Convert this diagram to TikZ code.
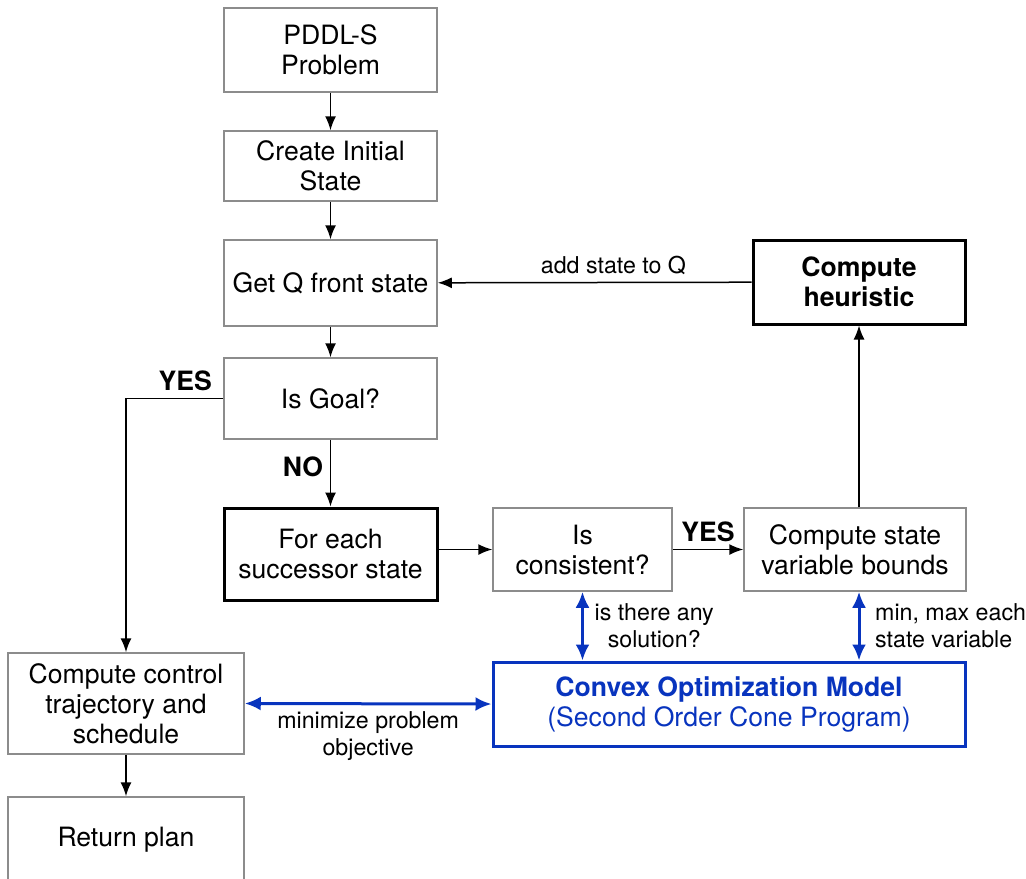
\documentclass[tikz,border=0pt]{standalone}
\usepackage{fontspec}
\setmainfont{TeX Gyre Heros}
\usetikzlibrary{arrows.meta}
\definecolor{boxgray}{RGB}{140,140,140}
\definecolor{modelblue}{RGB}{8,52,190}
\tikzset{
  box/.style={draw=boxgray, line width=0.75pt, align=center, inner sep=0pt, font=\fontsize{13.3}{15}\selectfont},
  keybox/.style={box, draw=black, line width=1.5pt},
  lbl/.style={font=\fontsize{11.6}{13.5}\selectfont, align=center},
  yesno/.style={font=\fontsize{13.3}{15}\selectfont\bfseries},
  link/.style={line width=1.5pt, draw=modelblue, {Latex[length=8pt,width=7pt]}-{Latex[length=8pt,width=7pt]}}
}
\begin{document}
\begin{tikzpicture}[x=0.5pt, y=-0.5pt, >={Latex[length=7pt,width=5.5pt]}, line width=0.75pt]

  \useasboundingbox (0,0) rectangle (1026,878);

  \node[box, minimum width=106.5pt, minimum height=42pt] (pddl) at (330.5,50) {PDDL-S\\Problem};
  \node[box, minimum width=106.5pt, minimum height=35pt] (init) at (330.5,166) {Create Initial\\State};
  \node[box, minimum width=106.5pt, minimum height=43pt] (getq) at (330.5,283) {Get Q front state};
  \node[box, minimum width=106.5pt, minimum height=40.5pt] (goal) at (330.5,398.5) {Is Goal?};
  \node[keybox, minimum width=106.5pt, minimum height=46pt] (succ) at (330.5,554) {For each\\successor state};
  \node[box, minimum width=89.5pt, minimum height=41.5pt] (cons) at (582.5,549.5) {Is\\consistent?};
  \node[box, minimum width=111pt, minimum height=41.5pt] (bounds) at (855,549.5) {Compute state\\variable bounds};
  \node[keybox, minimum width=106pt, minimum height=42pt, font=\fontsize{13.3}{15}\selectfont\bfseries] (heur) at (859,282) {Compute\\heuristic};
  \node[keybox, draw=modelblue, text=modelblue, minimum width=236pt, minimum height=42pt] (socp) at (729,704) {\textbf{Convex Optimization Model}\\(Second Order Cone Program)};
  \node[box, minimum width=118pt, minimum height=50.5pt] (ctrl) at (126,703.5) {Compute control\\trajectory and\\schedule};
  \node[box, minimum width=118pt, minimum height=42.5pt] (plan) at (126,839.5) {Return plan};

  \draw[->] (pddl) -- (init);
  \draw[->] (init) -- (getq);
  \draw[->] (getq) -- (goal);
  \draw[->] (goal) -- node[yesno, left, pos=0.4] {NO} (succ);
  \draw[->] (goal.west) -| (ctrl.north);
  \node[yesno, anchor=south east, xshift=-2pt] (yes1) at (goal.west) {YES};
  \draw[->] (succ.east |- cons.west) -- (cons.west);
  \draw[->] (cons) -- node[yesno, above] {YES} (bounds);
  \draw[->] (heur.south |- bounds.north) -- (heur.south);
  \draw[->] (heur) -- node[lbl, above, pos=0.44] {add state to Q} (getq);
  \draw[->] (ctrl) -- (plan);

  \draw[link] (cons.south) -- node[lbl, right, xshift=2pt] {is there any\\solution?} (cons.south |- socp.north);
  \draw[link] (heur.south |- bounds.south) -- node[lbl, right, align=left, xshift=4pt] {min, max each\\state variable} (heur.south |- socp.north);
  \draw[link] (ctrl.east) -- node[lbl, below] {minimize problem\\objective} (socp.west);

\end{tikzpicture}
\end{document}
